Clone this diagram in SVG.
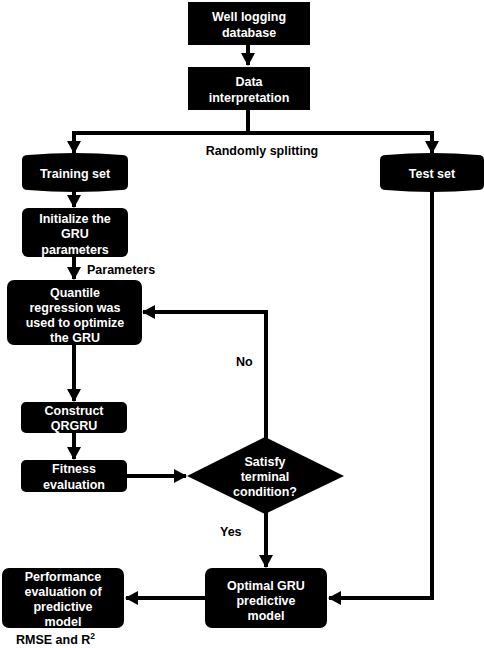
<svg xmlns="http://www.w3.org/2000/svg" width="484" height="648" viewBox="0 0 484 648">
<defs>
<style>
.n{fill:#000}
.t{fill:#fff;font-family:"Liberation Sans",Arial,sans-serif;font-weight:bold;font-size:12.5px;text-anchor:middle}
.l{fill:#000;font-family:"Liberation Sans",Arial,sans-serif;font-weight:bold;font-size:12.5px}
.c{fill:none;stroke:#000;stroke-width:4}
</style>
<marker id="ah" markerUnits="userSpaceOnUse" markerWidth="14" markerHeight="14" viewBox="0 0 14 14" refX="12" refY="7" orient="auto">
<path d="M0,0 L13,7 L0,14 Z" fill="#000"/>
</marker>
</defs>
<rect width="484" height="648" fill="#fff"/>
<g id="connectors">
<path class="c" d="M248,45 V65" marker-end="url(#ah)"/>
<path class="c" d="M248,110 V133"/>
<path class="c" d="M74,133 H432"/>
<path class="c" d="M74,131 V153" marker-end="url(#ah)"/>
<path class="c" d="M432,131 V153" marker-end="url(#ah)"/>
<path class="c" d="M74,191 V207" marker-end="url(#ah)"/>
<path class="c" d="M74,257 V279" marker-end="url(#ah)"/>
<path class="c" d="M74,345 V401" marker-end="url(#ah)"/>
<path class="c" d="M74,433 V459" marker-end="url(#ah)"/>
<path class="c" d="M127,476 H186" marker-end="url(#ah)"/>
<path class="c" d="M266,440 V312 H143" marker-end="url(#ah)"/>
<path class="c" d="M266,512 V567" marker-end="url(#ah)"/>
<path class="c" d="M432,190 V598 H329" marker-end="url(#ah)"/>
<path class="c" d="M205,598 H126" marker-end="url(#ah)"/>
</g>
<g id="n1"><rect class="n" x="188" y="2" width="122" height="43"/>
<text class="t" x="249" y="21">Well logging</text><text class="t" x="249" y="37">database</text></g>
<g id="n2"><rect class="n" x="188" y="67" width="122" height="43"/>
<text class="t" x="249" y="86">Data</text><text class="t" x="249" y="102">interpretation</text></g>
<g id="lbl-split"><text class="l" x="262" y="155" text-anchor="middle">Randomly splitting</text></g>
<g id="n3"><path class="n" d="M22,160 Q22,155 28,155 Q75,151 122,155 Q128,155 128,160 V185 Q128,190 122,190 Q75,194 28,190 Q22,190 22,185 Z"/>
<text class="t" x="75" y="178">Training set</text></g>
<g id="n4"><path class="n" d="M380,160 Q380,155 386,155 Q432,151 478,155 Q484,155 484,160 V185 Q484,190 478,190 Q432,194 386,190 Q380,190 380,185 Z"/>
<text class="t" x="432" y="178">Test set</text></g>
<g id="n5"><rect class="n" x="22" y="208" width="106" height="49" rx="6"/>
<text class="t" x="75" y="223">Initialize the</text><text class="t" x="75" y="238">GRU</text><text class="t" x="75" y="254">parameters</text></g>
<g id="lbl-params"><text class="l" x="87" y="274">Parameters</text></g>
<g id="n6"><rect class="n" x="7" y="280" width="135" height="65" rx="7"/>
<text class="t" x="75" y="297">Quantile</text><text class="t" x="75" y="312">regression was</text><text class="t" x="75" y="327">used to optimize</text><text class="t" x="75" y="342">the GRU</text></g>
<g id="lbl-no"><text class="l" x="236" y="366">No</text></g>
<g id="n7"><rect class="n" x="21" y="402" width="106" height="31" rx="5"/>
<text class="t" x="74" y="415">Construct</text><text class="t" x="74" y="430">QRGRU</text></g>
<g id="n8"><rect class="n" x="21" y="460" width="106" height="32" rx="5"/>
<text class="t" x="74" y="473">Fitness</text><text class="t" x="74" y="489">evaluation</text></g>
<g id="n9"><path class="n" d="M187,476 L265,437 L344,476 L265,514 Z"/>
<text class="t" x="265" y="466">Satisfy</text><text class="t" x="265" y="481">terminal</text><text class="t" x="265" y="496">condition?</text></g>
<g id="lbl-yes"><text class="l" x="220" y="536">Yes</text></g>
<g id="n10"><rect class="n" x="205" y="568" width="122" height="60" rx="7"/>
<text class="t" x="266" y="590">Optimal GRU</text><text class="t" x="266" y="605">predictive</text><text class="t" x="266" y="620">model</text></g>
<g id="n11"><rect class="n" x="2" y="568" width="122" height="60" rx="7"/>
<text class="t" x="63" y="581">Performance</text><text class="t" x="63" y="596">evaluation of</text><text class="t" x="63" y="611">predictive</text><text class="t" x="63" y="626">model</text></g>
<g id="lbl-rmse"><text class="l" x="16" y="644" font-size="12">RMSE and R<tspan font-size="8.5" dy="-5">2</tspan></text></g>
</svg>
